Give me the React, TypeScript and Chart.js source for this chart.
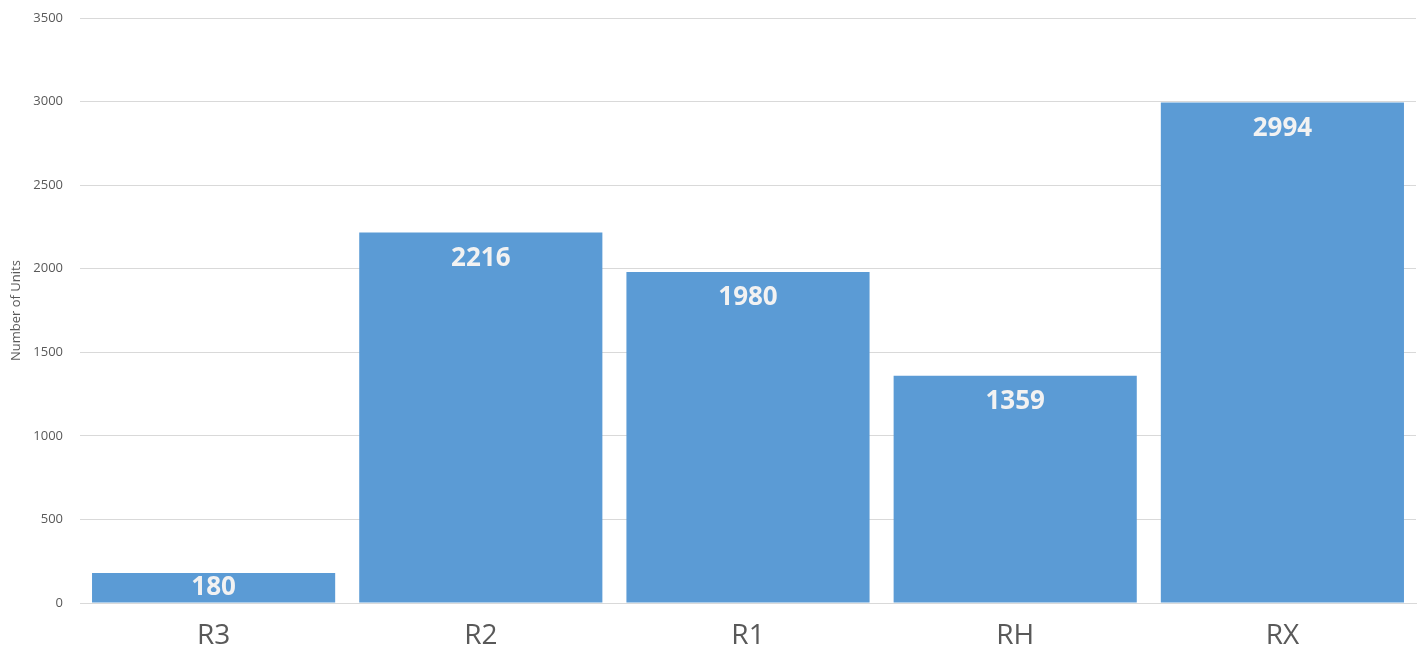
import React, { useEffect, useRef } from "react";
import { Chart, registerables } from "chart.js";

Chart.register(...registerables);

const categories = ["R3", "R2", "R1", "RH", "RX"];
const units = [180, 2216, 1980, 1359, 2994];
const yTicks = [0, 500, 1000, 1500, 2000, 2500, 3000, 3500];

const barLabelPlugin = {
  id: "barLabels",
  afterDatasetsDraw(chart: any) {
    const ctx = chart.ctx;
    const meta = chart.getDatasetMeta(0);
    ctx.save();
    ctx.font = "bold 26px 'Open Sans'";
    ctx.fillStyle = "#F2F2F2";
    ctx.textAlign = "center";
    ctx.textBaseline = "middle";
    meta.data.forEach((bar: any, i: number) => {
      const top = bar.y;
      const base = bar.base;
      const y = Math.min(top + 26, (top + base) / 2);
      ctx.fillText(String(units[i]), bar.x, y);
    });
    ctx.restore();
  },
};

export default function App() {
  const ref = useRef<HTMLCanvasElement | null>(null);
  useEffect(() => {
    if (!ref.current) return;
    const chart = new Chart(ref.current, {
      type: "bar",
      data: {
        labels: categories,
        datasets: [
          {
            data: units,
            backgroundColor: "#5B9BD5",
            borderWidth: 0,
            barPercentage: 0.91,
            categoryPercentage: 1,
          },
        ],
      },
      options: {
        responsive: false,
        animation: false,
        layout: { padding: { top: 18, right: 6, left: 0, bottom: 0 } },
        plugins: {
          legend: { display: false },
          tooltip: { enabled: false },
        },
        scales: {
          x: {
            grid: { display: false, drawTicks: false },
            border: { display: true, color: "#D9D9D9" },
            ticks: {
              color: "#595959",
              font: { family: "'Open Sans'", size: 28, lineHeight: 1.2 },
              padding: 16,
            },
            afterFit(scale: any) {
              scale.height = 48;
              scale.paddingLeft = 0;
              scale.paddingRight = 0;
            },
          },
          y: {
            min: 0,
            max: 3500,
            afterBuildTicks(scale: any) {
              scale.ticks = yTicks.map((v) => ({ value: v }));
            },
            grid: { color: "#D9D9D9", drawTicks: false },
            border: { display: false },
            ticks: {
              color: "#595959",
              font: { family: "'Open Sans'", size: 13 },
              padding: 17,
              callback: (v: any) => String(v),
            },
            title: {
              display: true,
              text: "Number of Units",
              color: "#595959",
              font: { family: "'Open Sans'", size: 13 },
              padding: { top: 8, bottom: 0 },
            },
            afterFit(scale: any) {
              scale.width = 80;
              scale.paddingTop = 0;
              scale.paddingBottom = 0;
            },
          },
        },
      },
      plugins: [barLabelPlugin],
    });
    return () => chart.destroy();
  }, []);
  return (
    <div style={{ position: "fixed", left: 0, top: 0, width: 1422, height: 651, background: "#fff" }}>
      <canvas ref={ref} width={1422} height={651} style={{ display: "block" }} />
    </div>
  );
}
